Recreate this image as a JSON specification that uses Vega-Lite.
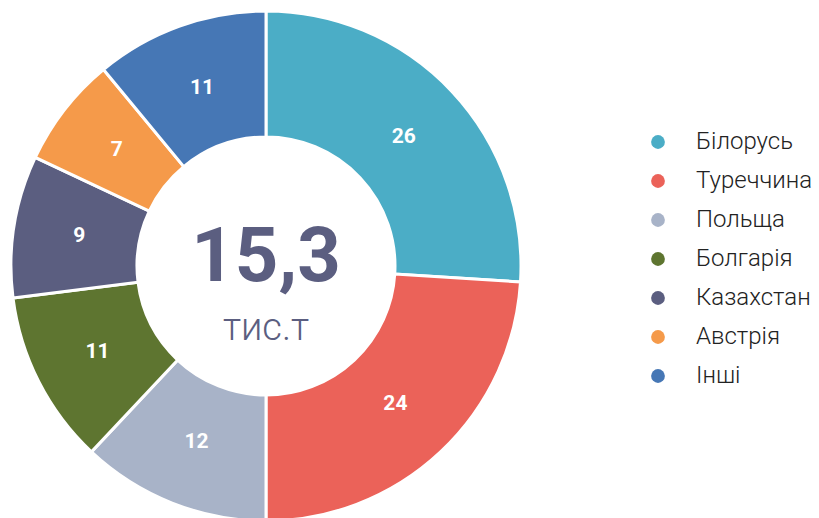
{
  "$schema": "https://vega.github.io/schema/vega-lite/v6.json",
  "width": 532,
  "height": 532,
  "padding": 0,
  "autosize": {"type": "pad"},
  "background": "white",
  "config": {"view": {"stroke": null}, "font": "Roboto"},
  "layer": [
    {
      "data": {"values": [
        {"country": "Білорусь", "value": 26, "ord": 1},
        {"country": "Туреччина", "value": 24, "ord": 2},
        {"country": "Польща", "value": 12, "ord": 3},
        {"country": "Болгарія", "value": 11, "ord": 4},
        {"country": "Казахстан", "value": 9, "ord": 5},
        {"country": "Австрія", "value": 7, "ord": 6},
        {"country": "Інші", "value": 11, "ord": 7}
      ]},
      "encoding": {
        "theta": {"field": "value", "type": "quantitative", "stack": true},
        "order": {"field": "ord", "type": "quantitative"},
        "color": {
          "field": "country", "type": "nominal",
          "sort": ["Білорусь", "Туреччина", "Польща", "Болгарія", "Казахстан", "Австрія", "Інші"],
          "scale": {
            "domain": ["Білорусь", "Туреччина", "Польща", "Болгарія", "Казахстан", "Австрія", "Інші"],
            "range": ["#4BADC6", "#EB6259", "#A8B3C8", "#5E7530", "#5B5E80", "#F59A4A", "#4677B5"]
          },
          "legend": {
            "title": null,
            "orient": "none",
            "legendX": 646,
            "legendY": 130,
            "symbolType": "circle",
            "symbolSize": 190,
            "symbolStrokeWidth": 0,
            "labelFontSize": 24,
            "labelFont": "Roboto",
            "labelFontWeight": 300,
            "labelColor": "#222222",
            "labelOffset": 26,
            "rowPadding": 15,
            "labelLimit": 300
          }
        }
      },
      "layer": [
        {"mark": {"type": "arc", "outerRadius": 255, "innerRadius": 129, "stroke": "white", "strokeWidth": 3}},
        {
          "mark": {"type": "text", "radius": 189, "fontSize": 21, "fontWeight": "bold", "fill": "white", "font": "Roboto"},
          "encoding": {"text": {"field": "value", "type": "quantitative"}, "color": {"value": "white"}}
        }
      ]
    },
    {
      "data": {"values": [{"t": "15,3"}]},
      "mark": {"type": "text", "fontSize": 76, "fontWeight": "bold", "fill": "#5B5E80", "dy": -8, "font": "Roboto"},
      "encoding": {"text": {"field": "t", "type": "nominal"}}
    },
    {
      "data": {"values": [{"t": "тис.т"}]},
      "mark": {"type": "text", "fontSize": 38, "fontWeight": 300, "fill": "#5B5E80", "dy": 63, "font": "Roboto"},
      "encoding": {"text": {"field": "t", "type": "nominal"}}
    }
  ]
}
